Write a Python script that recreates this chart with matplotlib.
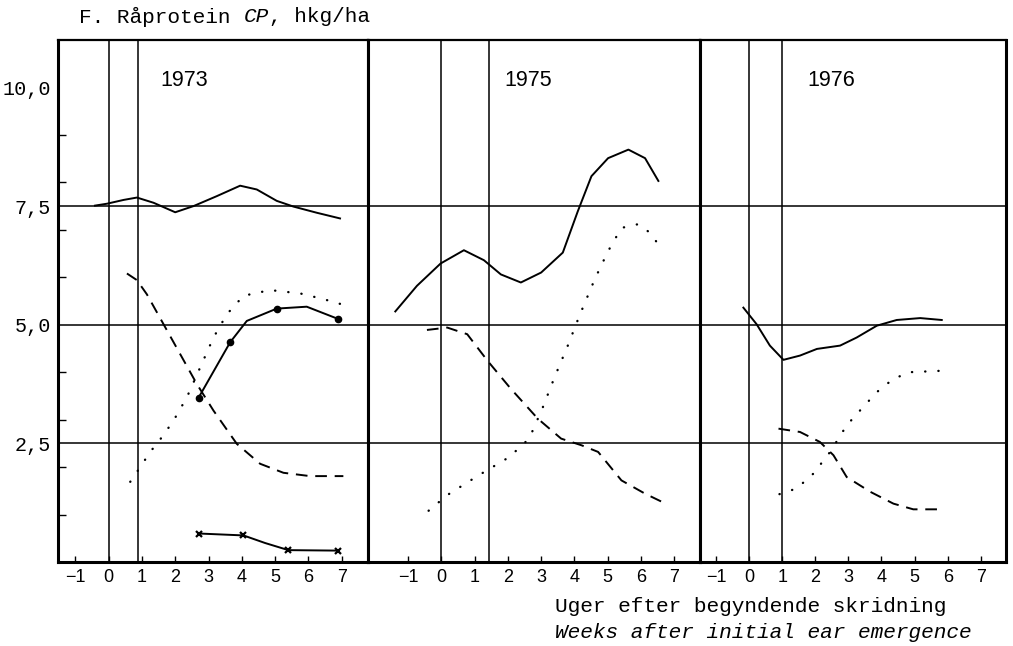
import matplotlib.pyplot as plt

# Råprotein (hkg/ha) mod uger efter begyndende skridning
years = ["1973", "1975", "1976"]

wk73_total = [-0.41, -0.05, 0.45, 0.85, 1.35, 2.0, 2.55, 3.25, 3.95, 4.45, 5.05, 5.55, 6.25, 6.95]
cp73_total = [7.51, 7.55, 7.63, 7.68, 7.57, 7.37, 7.50, 7.71, 7.93, 7.85, 7.61, 7.49, 7.36, 7.24]
wk73_leaf = [0.55, 0.85, 1.15, 1.65, 2.15, 2.65, 3.15, 3.85, 4.55, 5.25, 6.05, 7.05]
cp73_leaf = [6.08, 5.94, 5.64, 5.01, 4.38, 3.75, 3.19, 2.49, 2.07, 1.88, 1.81, 1.81]
wk73_ear = [0.65, 0.95, 1.25, 1.6, 1.95, 2.35, 2.75, 3.15, 3.55, 4.05, 4.85, 5.75, 6.45, 7.05]
cp73_ear = [1.69, 2.0, 2.32, 2.63, 2.98, 3.47, 4.10, 4.73, 5.22, 5.61, 5.73, 5.66, 5.54, 5.42]
wk73_grain = [2.70, 3.65, 4.15, 5.05, 5.95, 6.90]
cp73_grain = [3.46, 4.63, 5.08, 5.34, 5.38, 5.12]
grain_marks = [0, 1, 3, 5]
wk73_stub = [2.72, 4.05, 4.70, 5.40, 6.90]
cp73_stub = [0.60, 0.56, 0.40, 0.25, 0.24]
stub_marks = [0, 1, 3, 4]

wk75_total = [-1.38, -0.73, -0.02, 0.68, 1.28, 1.79, 2.39, 3.0, 3.65, 4.1, 4.51, 5.01, 5.62, 6.12, 6.52]
cp75_total = [5.28, 5.82, 6.29, 6.57, 6.36, 6.06, 5.89, 6.10, 6.52, 7.39, 8.13, 8.51, 8.69, 8.51, 8.03]
wk75_leaf = [-0.43, 0.18, 0.78, 1.39, 2.09, 2.9, 3.60, 4.21, 4.71, 5.41, 6.12, 6.62]
cp75_leaf = [4.89, 4.94, 4.80, 4.24, 3.65, 3.02, 2.60, 2.46, 2.32, 1.72, 1.44, 1.27]
wk75_ear = [-0.38, 0.18, 1.13, 2.04, 2.64, 3.05, 3.40, 3.80, 4.15, 4.61, 5.01, 5.41, 5.92, 6.32, 6.57]
cp75_ear = [1.08, 1.41, 1.83, 2.21, 2.60, 3.26, 3.89, 4.56, 5.19, 5.96, 6.55, 7.04, 7.12, 6.91, 6.62]

wk76_total = [-0.17, 0.23, 0.63, 1.04, 1.54, 2.05, 2.75, 3.25, 3.86, 4.46, 5.17, 5.82]
cp76_total = [5.36, 5.01, 4.56, 4.26, 4.35, 4.49, 4.56, 4.73, 4.98, 5.10, 5.14, 5.10]
wk76_leaf = [0.89, 1.54, 2.14, 2.55, 2.95, 3.66, 4.36, 4.96, 5.82]
cp76_leaf = [2.81, 2.74, 2.53, 2.25, 1.79, 1.48, 1.23, 1.11, 1.11]
wk76_ear = [0.92, 1.44, 1.94, 2.45, 2.95, 3.40, 3.86, 4.36, 4.86, 5.82]
cp76_ear = [1.43, 1.55, 1.86, 2.32, 2.88, 3.23, 3.58, 3.86, 4.0, 4.03]

# lodrette streger (skridning / høst) for hvert år
vlines = [[0, 0.87], [0, 1.42], [0, 1.0]]

x_ticks = [-1, 0, 1, 2, 3, 4, 5, 6, 7]
x_ticklabels = ["\u22121", "0", "1", "2", "3", "4", "5", "6", "7"]
y_ticks = [2.5, 5.0, 7.5, 10.0]
y_ticklabels = ["2,5", "5,0", "7,5", "10,0"]
y_minor = [1, 2, 3, 4, 5, 6, 7, 8, 9, 10]
hlines = [2.5, 5.0, 7.5]

W, H = 1013, 646
fig = plt.figure(figsize=(W / 100, H / 100), dpi=100)

# panelernes placering i pixel: (venstre, højre) og x-område
panels = [(58, 368, (-1.52, 7.79)), (368, 700, (-2.20, 7.77)), (700, 1006, (-1.48, 7.76))]
year_x = [0.33, 0.41, 0.35]
top, bottom = 40, 562

mono = "Liberation Mono"
sans = "Liberation Sans"
lw = 1.4
dash = (0, (6, 4))
dots = (0, (0.1, 5.5))

series = [
    [(wk73_total, cp73_total, "-"), (wk73_leaf, cp73_leaf, dash), (wk73_ear, cp73_ear, dots)],
    [(wk75_total, cp75_total, "-"), (wk75_leaf, cp75_leaf, dash), (wk75_ear, cp75_ear, dots)],
    [(wk76_total, cp76_total, "-"), (wk76_leaf, cp76_leaf, dash), (wk76_ear, cp76_ear, dots)],
]

axes = []
for i, (x0, x1, xlim) in enumerate(panels):
    ax = fig.add_axes([x0 / W, (H - bottom) / H, (x1 - x0) / W, (bottom - top) / H])
    ax.set_xlim(*xlim)
    ax.set_ylim(0, 11)
    for s in ax.spines.values():
        s.set_linewidth(2.2)
    ax.spines["top"].set_linewidth(1.6)

    for y in hlines:
        ax.axhline(y, color="k", lw=1.1, zorder=1)
    for x in vlines[i]:
        ax.axvline(x, color="k", lw=1.1, zorder=1)

    for xs, ys, ls in series[i]:
        if ls == dots:
            ax.plot(xs, ys, color="k", lw=1.7, linestyle=ls, dash_capstyle="round", zorder=3)
        else:
            ax.plot(xs, ys, color="k", lw=lw, linestyle=ls, zorder=3)

    ax.set_xticks(x_ticks)
    ax.set_xticklabels(x_ticklabels, fontfamily=sans, fontsize=13)
    ax.tick_params(axis="x", direction="in", length=4.5, width=1.0, pad=5)

    if i == 0:
        ax.set_yticks(y_ticks)
        ax.set_yticklabels(y_ticklabels, fontfamily=mono, fontsize=14.5)
        ax.set_yticks(y_minor, minor=True)
        ax.tick_params(axis="y", which="major", length=0, pad=5)
        ax.tick_params(axis="y", which="minor", direction="in", length=6, width=1.0)
    else:
        ax.set_yticks([])

    ax.text(year_x[i], 0.922, years[i], transform=ax.transAxes,
            fontfamily=sans, fontsize=15.5, ha="left", va="center")
    axes.append(ax)

# 1973: kerne (punkter) og kryds-serien
ax = axes[0]
ax.plot(wk73_grain, cp73_grain, color="k", lw=lw, marker="o", ms=4.5,
        markevery=grain_marks, zorder=4)
ax.plot(wk73_stub, cp73_stub, color="k", lw=lw, marker="x", ms=5, mew=1.6,
        markevery=stub_marks, zorder=4)

# overskrift i skrivemaskinestil, CP i kursiv
fs = 15.2
cw = 0.6 * fs / 72 * 100
tx, ty = 79, 17
fig.text(tx / W, 1 - ty / H, "F. Råprotein ", fontfamily=mono, fontsize=fs, va="center")
fig.text((tx + 13 * cw) / W, 1 - ty / H, "CP", fontfamily=mono, fontsize=fs,
         style="italic", va="center")
fig.text((tx + 15 * cw) / W, 1 - ty / H, ", hkg/ha", fontfamily=mono, fontsize=fs, va="center")

fig.text(555 / W, 1 - 607 / H, "Uger efter begyndende skridning", fontfamily=mono,
         fontsize=fs, va="center")
fig.text(555 / W, 1 - 632 / H, "Weeks after initial ear emergence", fontfamily=mono,
         fontsize=fs, style="italic", va="center")

fig.savefig("out.png", dpi=100)
